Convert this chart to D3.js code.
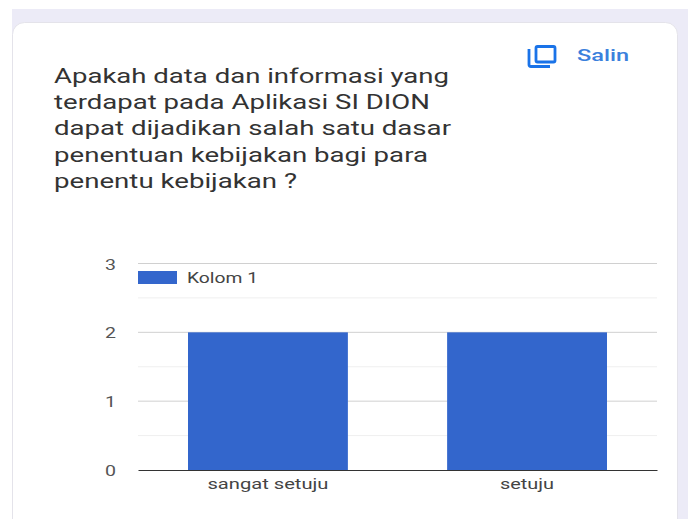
<!DOCTYPE html>
<html>
<head>
<meta charset="utf-8">
<script src="https://cdn.jsdelivr.net/npm/d3@7"></script>
<style>
  html, body { margin: 0; padding: 0; background: #fff; }
  svg { display: block; }
  text { font-family: Roboto, sans-serif; }
</style>
</head>
<body>
<div id="chart"></div>
<script>
const categories = ['sangat setuju', 'setuju'];
const values = [2, 2];
const yTicks = [0, 1, 2, 3];
const minorTicks = [0.5, 1.5, 2.5];
const seriesName = 'Kolom 1';
const titleLines = [
  'Apakah data dan informasi yang',
  'terdapat pada Aplikasi SI DION',
  'dapat dijadikan salah satu dasar',
  'penentuan kebijakan bagi para',
  'penentu kebijakan ?'
];
const titleWidths = [395, 376, 397, 374, 243];

const W = 688, H = 519;
const plot = { left: 138, right: 657, top: 263.5, bottom: 470 };
const blue = '#3366cc';

const svg = d3.select('#chart').append('svg').attr('width', W).attr('height', H);

// page + card
svg.append('rect').attr('x', 12).attr('y', 9).attr('width', W - 12).attr('height', H - 9).attr('fill', '#ecebf7');
svg.append('rect').attr('x', 12.5).attr('y', 22.5).attr('width', 665).attr('height', H + 20)
  .attr('rx', 12).attr('fill', '#fff').attr('stroke', '#e4e3ea');

// title
svg.append('g').selectAll('text').data(titleLines).join('text')
  .attr('x', 54)
  .attr('y', (d, i) => 83 + i * 26.2)
  .attr('font-size', 20)
  .attr('fill', '#333')
  .attr('textLength', (d, i) => titleWidths[i])
  .attr('lengthAdjust', 'spacingAndGlyphs')
  .text(d => d);

// copy icon
const icon = svg.append('g').attr('fill', 'none').attr('stroke', '#1a73e8').attr('stroke-width', 2.8);
icon.append('rect').attr('x', 536).attr('y', 46.5).attr('width', 19).attr('height', 15.5).attr('rx', 1.5);
icon.append('path').attr('d', 'M529 49v15.5a2 2 0 0 0 2 2h19');
svg.append('text').attr('x', 577).attr('y', 61).attr('font-size', 17).attr('font-weight', 500)
  .attr('fill', '#3a80dc').attr('textLength', 52).attr('lengthAdjust', 'spacingAndGlyphs').text('Salin');

// scales
const x = d3.scaleBand().domain(categories).range([plot.left, plot.right]).paddingInner(0.383).paddingOuter(0.193);
const y = d3.scaleLinear().domain([0, 3]).range([plot.bottom, plot.top]);

// grid
svg.append('g').selectAll('line').data(minorTicks).join('line')
  .attr('x1', plot.left).attr('x2', plot.right)
  .attr('y1', d => y(d)).attr('y2', d => y(d))
  .attr('stroke', '#efefef');
svg.append('g').selectAll('line').data(yTicks.filter(d => d > 0)).join('line')
  .attr('x1', plot.left).attr('x2', plot.right)
  .attr('y1', d => y(d)).attr('y2', d => y(d))
  .attr('stroke', '#d0d0d0');

// bars
svg.append('g').selectAll('rect').data(values).join('rect')
  .attr('x', (d, i) => x(categories[i]))
  .attr('y', d => y(d))
  .attr('width', x.bandwidth())
  .attr('height', d => y(0) - y(d))
  .attr('fill', blue);

// axes
const yAxis = svg.append('g').attr('transform', `translate(${plot.left},0)`)
  .call(d3.axisLeft(y).tickValues(yTicks).tickSize(0).tickPadding(22).tickFormat(d3.format('d')));
yAxis.select('.domain').remove();
yAxis.selectAll('text').attr('font-size', 14).attr('fill', '#555').attr('dy', '0.4em')
  .attr('font-family', 'Roboto, sans-serif').attr('textLength', 11).attr('lengthAdjust', 'spacingAndGlyphs');

const xAxis = svg.append('g').attr('transform', `translate(0,${plot.bottom})`)
  .call(d3.axisBottom(x).tickSize(0).tickPadding(9));
xAxis.select('.domain').attr('stroke', '#333').attr('stroke-width', 1.2);
xAxis.selectAll('text').attr('font-size', 14.5).attr('fill', '#444')
  .attr('font-family', 'Roboto, sans-serif')
  .attr('textLength', (d, i) => [121, 54][i]).attr('lengthAdjust', 'spacingAndGlyphs');

// legend
svg.append('rect').attr('x', 138).attr('y', 271).attr('width', 39).attr('height', 13).attr('fill', blue);
svg.append('text').attr('x', 187).attr('y', 282.5).attr('font-size', 14.5).attr('fill', '#444')
  .attr('textLength', 71).attr('lengthAdjust', 'spacingAndGlyphs').text(seriesName);
</script>
</body>
</html>
